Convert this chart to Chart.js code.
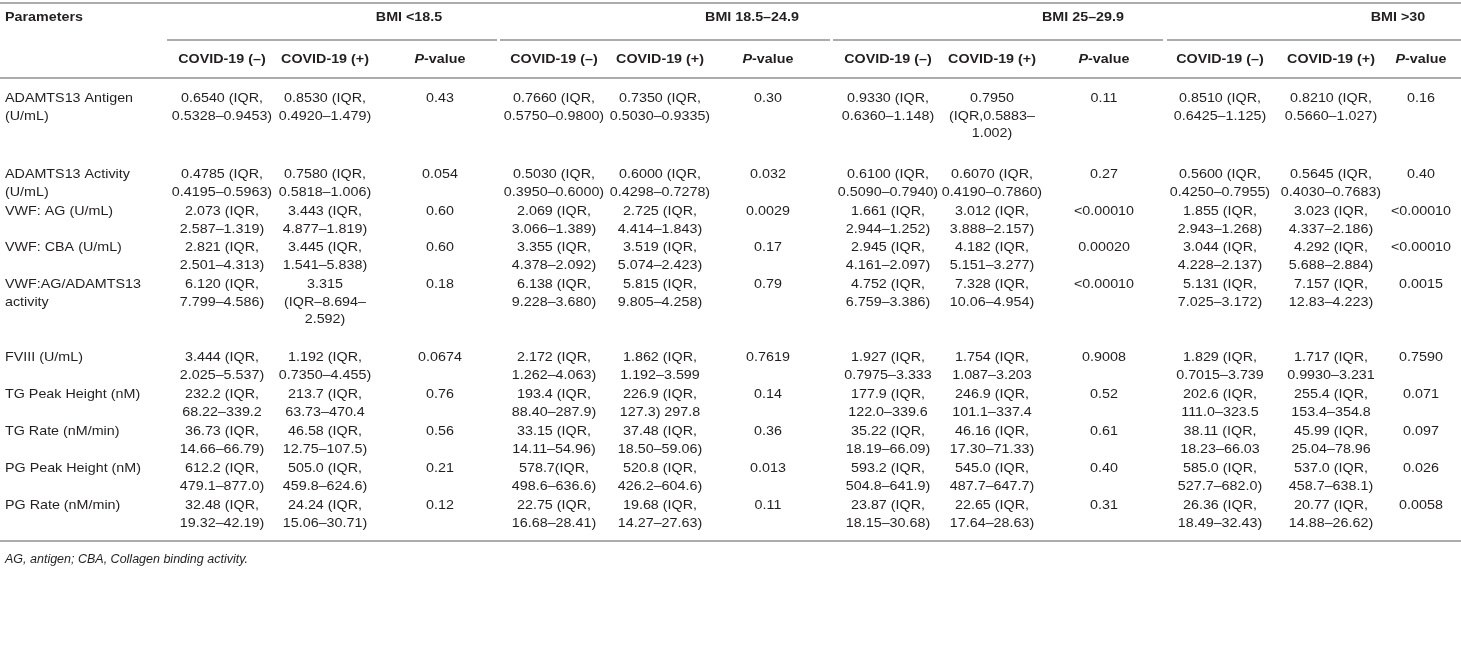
<!DOCTYPE html>
<html>
<head>
<meta charset="utf-8">
<style>
  html, body { margin: 0; padding: 0; background: #fff; }
  #table { display: block; }
</style>
<script src="https://cdn.jsdelivr.net/npm/chart.js@4/dist/chart.umd.min.js"></script>
</head>
<body>
<canvas id="table" width="1461" height="648"></canvas>
<script>
// Table content
var groups = ['BMI <18.5', 'BMI 18.5–24.9', 'BMI 25–29.9', 'BMI >30'];
var subHeaders = ['COVID-19 (–)', 'COVID-19 (+)', 'P-value'];
var parameters = [
  'ADAMTS13 Antigen\n(U/mL)',
  'ADAMTS13 Activity\n(U/mL)',
  'VWF: AG (U/mL)',
  'VWF: CBA (U/mL)',
  'VWF:AG/ADAMTS13\nactivity',
  'FVIII (U/mL)',
  'TG Peak Height (nM)',
  'TG Rate (nM/min)',
  'PG Peak Height (nM)',
  'PG Rate (nM/min)'
];

// each row: [COVID-19 (-), COVID-19 (+), P-value]
var bmiUnder185 = [
  ['0.6540 (IQR,\n0.5328–0.9453)', '0.8530 (IQR,\n0.4920–1.479)', '0.43'],
  ['0.4785 (IQR,\n0.4195–0.5963)', '0.7580 (IQR,\n0.5818–1.006)', '0.054'],
  ['2.073 (IQR,\n2.587–1.319)', '3.443 (IQR,\n4.877–1.819)', '0.60'],
  ['2.821 (IQR,\n2.501–4.313)', '3.445 (IQR,\n1.541–5.838)', '0.60'],
  ['6.120 (IQR,\n7.799–4.586)', '3.315\n(IQR–8.694–\n2.592)', '0.18'],
  ['3.444 (IQR,\n2.025–5.537)', '1.192 (IQR,\n0.7350–4.455)', '0.0674'],
  ['232.2 (IQR,\n68.22–339.2', '213.7 (IQR,\n63.73–470.4', '0.76'],
  ['36.73 (IQR,\n14.66–66.79)', '46.58 (IQR,\n12.75–107.5)', '0.56'],
  ['612.2 (IQR,\n479.1–877.0)', '505.0 (IQR,\n459.8–624.6)', '0.21'],
  ['32.48 (IQR,\n19.32–42.19)', '24.24 (IQR,\n15.06–30.71)', '0.12']
];
var bmiNormal = [
  ['0.7660 (IQR,\n0.5750–0.9800)', '0.7350 (IQR,\n0.5030–0.9335)', '0.30'],
  ['0.5030 (IQR,\n0.3950–0.6000)', '0.6000 (IQR,\n0.4298–0.7278)', '0.032'],
  ['2.069 (IQR,\n3.066–1.389)', '2.725 (IQR,\n4.414–1.843)', '0.0029'],
  ['3.355 (IQR,\n4.378–2.092)', '3.519 (IQR,\n5.074–2.423)', '0.17'],
  ['6.138 (IQR,\n9.228–3.680)', '5.815 (IQR,\n9.805–4.258)', '0.79'],
  ['2.172 (IQR,\n1.262–4.063)', '1.862 (IQR,\n1.192–3.599', '0.7619'],
  ['193.4 (IQR,\n88.40–287.9)', '226.9 (IQR,\n127.3) 297.8', '0.14'],
  ['33.15 (IQR,\n14.11–54.96)', '37.48 (IQR,\n18.50–59.06)', '0.36'],
  ['578.7(IQR,\n498.6–636.6)', '520.8 (IQR,\n426.2–604.6)', '0.013'],
  ['22.75 (IQR,\n16.68–28.41)', '19.68 (IQR,\n14.27–27.63)', '0.11']
];
var bmiOver = [
  ['0.9330 (IQR,\n0.6360–1.148)', '0.7950\n(IQR,0.5883–\n1.002)', '0.11'],
  ['0.6100 (IQR,\n0.5090–0.7940)', '0.6070 (IQR,\n0.4190–0.7860)', '0.27'],
  ['1.661 (IQR,\n2.944–1.252)', '3.012 (IQR,\n3.888–2.157)', '<0.00010'],
  ['2.945 (IQR,\n4.161–2.097)', '4.182 (IQR,\n5.151–3.277)', '0.00020'],
  ['4.752 (IQR,\n6.759–3.386)', '7.328 (IQR,\n10.06–4.954)', '<0.00010'],
  ['1.927 (IQR,\n0.7975–3.333', '1.754 (IQR,\n1.087–3.203', '0.9008'],
  ['177.9 (IQR,\n122.0–339.6', '246.9 (IQR,\n101.1–337.4', '0.52'],
  ['35.22 (IQR,\n18.19–66.09)', '46.16 (IQR,\n17.30–71.33)', '0.61'],
  ['593.2 (IQR,\n504.8–641.9)', '545.0 (IQR,\n487.7–647.7)', '0.40'],
  ['23.87 (IQR,\n18.15–30.68)', '22.65 (IQR,\n17.64–28.63)', '0.31']
];
var bmiObese = [
  ['0.8510 (IQR,\n0.6425–1.125)', '0.8210 (IQR,\n0.5660–1.027)', '0.16'],
  ['0.5600 (IQR,\n0.4250–0.7955)', '0.5645 (IQR,\n0.4030–0.7683)', '0.40'],
  ['1.855 (IQR,\n2.943–1.268)', '3.023 (IQR,\n4.337–2.186)', '<0.00010'],
  ['3.044 (IQR,\n4.228–2.137)', '4.292 (IQR,\n5.688–2.884)', '<0.00010'],
  ['5.131 (IQR,\n7.025–3.172)', '7.157 (IQR,\n12.83–4.223)', '0.0015'],
  ['1.829 (IQR,\n0.7015–3.739', '1.717 (IQR,\n0.9930–3.231', '0.7590'],
  ['202.6 (IQR,\n111.0–323.5', '255.4 (IQR,\n153.4–354.8', '0.071'],
  ['38.11 (IQR,\n18.23–66.03', '45.99 (IQR,\n25.04–78.96', '0.097'],
  ['585.0 (IQR,\n527.7–682.0)', '537.0 (IQR,\n458.7–638.1)', '0.026'],
  ['26.36 (IQR,\n18.49–32.43)', '20.77 (IQR,\n14.88–26.62)', '0.0058']
];
var groupData = [bmiUnder185, bmiNormal, bmiOver, bmiObese];
var footnote = 'AG, antigen; CBA, Collagen binding activity.';

// Layout (in scale units, which match the canvas pixels)
var colCenters = [[222, 325, 440], [554, 660, 768], [888, 992, 1104], [1220, 1331, 1421]];
var groupCenters = [409, 752, 1083, 1398];
var groupSpans = [[167, 497], [500, 830], [833, 1163], [1167, 1461]];
var rowTops = [98, 174, 211, 247, 284, 357, 394, 431, 468, 505];
var lineStep = 17.8;
var hScale = 1.06; // the source table is a little wider than plain Arial

var textColor = '#231f20';
var ruleColor = '#acacac';
var font = '"Liberation Sans", Arial, sans-serif';

// draw one line of text, horizontally stretched
function putText(ctx, s, x, y, align, k) {
  var sc = k || hScale;
  var w = ctx.measureText(s).width * sc;
  var left = align === 'center' ? x - w / 2 : x;
  ctx.save();
  ctx.translate(left, y);
  ctx.scale(sc, 1);
  ctx.textAlign = 'left';
  ctx.fillText(s, 0, 0);
  ctx.restore();
}

function drawLines(ctx, text, x, y, align) {
  text.split('\n').forEach(function(line, i) {
    putText(ctx, line, x, y + i * lineStep, align);
  });
}

var tablePlugin = {
  id: 'tablePlugin',
  afterDraw: function(chart) {
    var ctx = chart.ctx;
    var sx = chart.scales.x;
    var sy = chart.scales.y;
    var X = function(v) { return sx.getPixelForValue(v); };
    var Y = function(v) { return sy.getPixelForValue(v); };

    ctx.save();
    ctx.textBaseline = 'middle';
    ctx.fillStyle = textColor;

    // rules
    ctx.strokeStyle = ruleColor;
    ctx.lineWidth = 2;
    function rule(x1, x2, y) {
      ctx.beginPath();
      ctx.moveTo(X(x1), Y(y));
      ctx.lineTo(X(x2), Y(y));
      ctx.stroke();
    }
    rule(0, 1461, 3);
    groupSpans.forEach(function(s) { rule(s[0], s[1], 40); });
    rule(0, 1461, 78);
    rule(0, 1461, 541);

    // header
    var bold = 'bold 13.5px ' + font;
    var boldItalic = 'italic bold 13.5px ' + font;
    ctx.font = bold;
    putText(ctx, 'Parameters', X(5), Y(17), 'left');
    groups.forEach(function(g, gi) {
      ctx.font = bold;
      putText(ctx, g, X(groupCenters[gi]), Y(17), 'center');
      subHeaders.forEach(function(h, ci) {
        var cx = X(colCenters[gi][ci]);
        if (h.indexOf('P-') === 0) {
          ctx.font = boldItalic;
          var w1 = ctx.measureText('P').width * hScale;
          ctx.font = bold;
          var w2 = ctx.measureText(h.slice(1)).width * hScale;
          var left = cx - (w1 + w2) / 2;
          ctx.font = boldItalic;
          putText(ctx, 'P', left, Y(59), 'left');
          ctx.font = bold;
          putText(ctx, h.slice(1), left + w1, Y(59), 'left');
        } else {
          putText(ctx, h, cx, Y(59), 'center');
        }
      });
    });

    // body
    ctx.font = '13.5px ' + font;
    parameters.forEach(function(p, ri) {
      drawLines(ctx, p, X(5), Y(rowTops[ri]), 'left');
      groupData.forEach(function(rows, gi) {
        rows[ri].forEach(function(cell, ci) {
          drawLines(ctx, cell, X(colCenters[gi][ci]), Y(rowTops[ri]), 'center');
        });
      });
    });

    // footnote
    ctx.font = 'italic 12.5px ' + font;
    putText(ctx, footnote, X(5), Y(560), 'left', 1);
    ctx.restore();
  }
};

new Chart(document.getElementById('table'), {
  type: 'scatter',
  data: { datasets: [] },
  options: {
    responsive: false,
    animation: false,
    layout: { padding: 0 },
    plugins: { legend: { display: false }, tooltip: { enabled: false } },
    scales: {
      x: { type: 'linear', min: 0, max: 1461, display: false },
      y: { type: 'linear', min: 0, max: 648, reverse: true, display: false }
    }
  },
  plugins: [tablePlugin]
});
</script>
</body>
</html>
